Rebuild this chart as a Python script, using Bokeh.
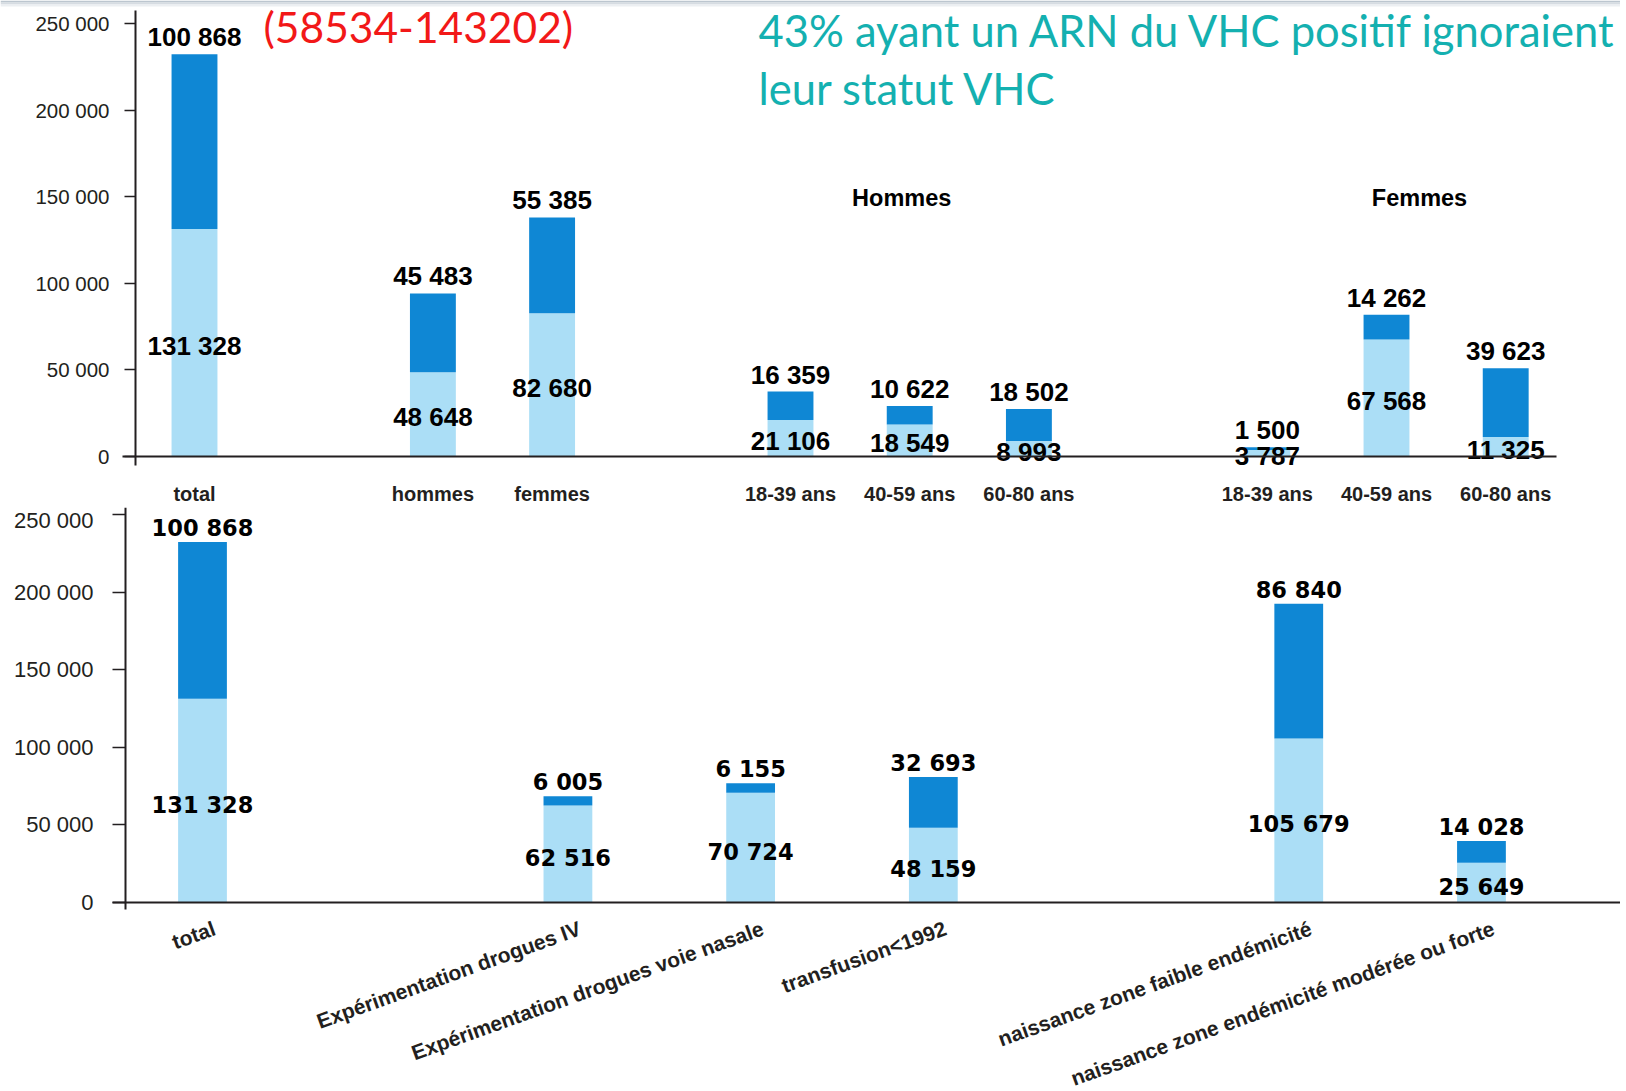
from bokeh.plotting import figure
from bokeh.models import (ColumnDataSource, FixedTicker, Range1d, Label,
                          LinearAxis, BoxAnnotation)
from bokeh.layouts import column
from bokeh.embed import file_html
from bokeh.resources import INLINE
from bokeh.core.properties import value

# ---------------- data ----------------
# top chart: by sex and age (None = empty slot between groups)
top_slots = ["total", None, "hommes", "femmes", None,
             "18-39 ans", "40-59 ans", "60-80 ans", None,
             "18-39 ans", "40-59 ans", "60-80 ans"]
top_aware = [131328, 48648, 82680, 21106, 18549, 8993, 3787, 67568, 11325]
top_unaware = [100868, 45483, 55385, 16359, 10622, 18502, 1500, 14262, 39623]
top_groups = ["Hommes", "Femmes"]
top_group_members = [[5, 6, 7], [9, 10, 11]]

# bottom chart: by exposure
bot_slots = ["total", None, "Expérimentation drogues IV",
             "Expérimentation drogues voie nasale", "transfusion<1992", None,
             "naissance zone faible endémicité",
             "naissance zone endémicité modérée ou forte"]
bot_aware = [131328, 62516, 70724, 48159, 105679, 25649]
bot_unaware = [100868, 6005, 6155, 32693, 86840, 14028]

y_ticks = [0, 50000, 100000, 150000, 200000, 250000]

title_red = "(58534-143202)"
title_line1 = "43% ayant un ARN du VHC positif ignoraient"
title_line2 = "leur statut VHC"

# ---------------- style ----------------
DARK = "#0f87d4"
LIGHT = "#abdef6"
INK = "#231f20"
TEAL = "#14b0b0"
RED = "#f21818"
SANS = "Liberation Sans"
BAND = ["#bcc6cf", "#d6dce2", "#eceff2"]


def fmt(v):
    return f"{v:,}".replace(",", " ")


def build_source(slots, aware, unaware):
    xs = [i for i, s in enumerate(slots) if s is not None]
    tot = [a + u for a, u in zip(aware, unaware)]
    return ColumnDataSource(dict(
        x=xs, aware=aware, total=tot,
        mid=[a / 2 for a in aware],
        ta=[fmt(a) for a in aware], tu=[fmt(u) for u in unaware])), xs


def make_fig(w, h, xr, yr):
    p = figure(frame_width=w, frame_height=h,
               min_border_left=0, min_border_right=0,
               min_border_top=0, min_border_bottom=0,
               x_range=Range1d(*xr), y_range=Range1d(*yr),
               x_axis_location=None, y_axis_location=None,
               output_backend="svg", toolbar_location=None, title=None)
    p.outline_line_color = None
    p.grid.visible = False
    return p


def add_axes(p, y_line_at, y_bounds, x_bounds, tick_out, ylab_size, ylab_standoff):
    yax = LinearAxis(fixed_location=y_line_at, bounds=y_bounds,
                     ticker=FixedTicker(ticks=y_ticks),
                     major_label_overrides={t: fmt(t) for t in y_ticks},
                     axis_line_color=INK, axis_line_width=2,
                     major_tick_line_color=INK, major_tick_line_width=1.5,
                     major_tick_in=0, major_tick_out=tick_out,
                     minor_tick_line_color=None,
                     major_label_standoff=ylab_standoff,
                     major_label_text_font=SANS,
                     major_label_text_font_size=ylab_size,
                     major_label_text_color=INK)
    p.add_layout(yax, "left")
    xax = LinearAxis(fixed_location=0, bounds=x_bounds,
                     axis_line_color=INK, axis_line_width=2,
                     major_tick_line_color=None, minor_tick_line_color=None,
                     major_tick_in=0, major_tick_out=0,
                     major_label_text_font=SANS,
                     major_label_text_font_style="bold",
                     major_label_text_color=INK)
    p.add_layout(xax, "below")
    return xax


def add_bars(p, src, width, font, size, dy_top, dy_mid):
    p.vbar(x="x", bottom=0, top="aware", width=width, source=src,
           fill_color=LIGHT, line_color=None)
    p.vbar(x="x", bottom="aware", top="total", width=width, source=src,
           fill_color=DARK, line_color=None)
    p.text(x="x", y="total", text="tu", source=src, text_align="center",
           text_baseline="alphabetic", y_offset=dy_top,
           text_font=value(font), text_font_style="bold",
           text_font_size=size, text_color="black")
    p.text(x="x", y="mid", text="ta", source=src, text_align="center",
           text_baseline="middle", y_offset=dy_mid,
           text_font=value(font), text_font_style="bold",
           text_font_size=size, text_color="black")


# ---------------- top figure ----------------
src1, xs1 = build_source(top_slots, top_aware, top_unaware)
Y_TOP1 = 263294
p1 = make_fig(1620, 507, (-1.6275, 11.963), (-29447, Y_TOP1))

# faint slide header band along the very top
for k, c in enumerate(BAND):
    p1.add_layout(BoxAnnotation(top=Y_TOP1 - k * 1155, bottom=Y_TOP1 - (k + 1) * 1155,
                                fill_color=c, fill_alpha=1.0, line_color=None,
                                level="underlay"))

xax1 = add_axes(p1, -0.495, (-5200, 257500), (-0.604, 11.426), 11, "20.5px", 15)
xax1.ticker = FixedTicker(ticks=xs1)
xax1.major_label_overrides = {i: top_slots[i] for i in xs1}
xax1.major_label_text_font_size = "20px"
xax1.major_label_standoff = 26
add_bars(p1, src1, 0.385, "Liberation Sans", "26px", -17, 3)

for name, members, dx in zip(top_groups, top_group_members, [-8, 33]):
    p1.add_layout(Label(x=sum(members) / len(members), y=149500, text=name,
                        x_offset=dx, text_align="center", text_baseline="middle",
                        text_font=SANS, text_font_style="bold",
                        text_font_size="23.5px", text_color="black"))

p1.add_layout(Label(x=0.579, y=248300, text=title_red, text_font="Lato",
                    text_font_size="42.5px", text_color=RED,
                    text_baseline="alphabetic"))
p1.add_layout(Label(x=4.732, y=246200, text=title_line1, text_font="Lato",
                    text_font_size="43.5px", text_color=TEAL,
                    text_baseline="alphabetic"))
p1.add_layout(Label(x=4.732, y=213000, text=title_line2, text_font="Lato",
                    text_font_size="43.5px", text_color=TEAL,
                    text_baseline="alphabetic"))

# ---------------- bottom figure ----------------
src2, xs2 = build_source(bot_slots, bot_aware, bot_unaware)
p2 = make_fig(1620, 582, (-1.1056, 7.761), (-120480, 254500))
xax2 = add_axes(p2, -0.421, (-4500, 254500), (-0.4926, 7.761), 13, "22px", 19)
xax2.ticker = FixedTicker(ticks=[])
add_bars(p2, src2, 0.267, "DejaVu Sans", "22.5px", -14, 4)

# rotated category labels below the axis
for i in xs2:
    p2.add_layout(Label(x=i, y=0, text=bot_slots[i], angle=0.345,
                        x_offset=12, y_offset=-25,
                        text_align="right", text_baseline="middle",
                        text_font=SANS, text_font_style="bold",
                        text_font_size="21px", text_color=INK))

layout = column(p1, p2, spacing=0)
open("out.html", "w").write(file_html(layout, INLINE))
